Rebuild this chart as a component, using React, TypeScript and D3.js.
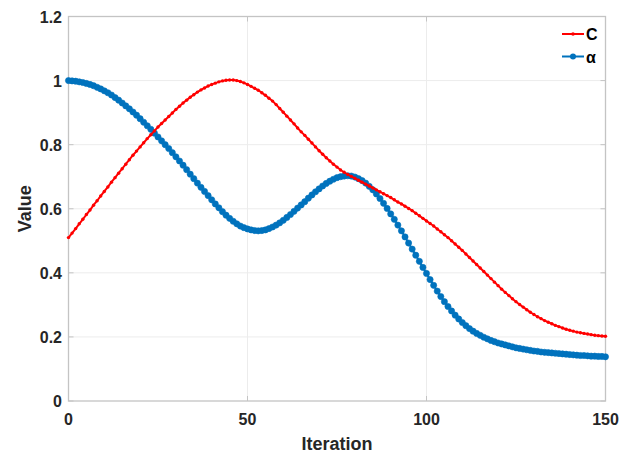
import React from "react";
import * as d3 from "d3";

const iterations: number[] = Array.from({ length: 151 }, (_, i) => i);

const seriesC: number[] = [
  0.510, 0.524, 0.538, 0.553, 0.567, 0.582, 0.596, 0.611, 0.625, 0.640,
  0.654, 0.668, 0.683, 0.697, 0.711, 0.725, 0.739, 0.753, 0.767, 0.780,
  0.793, 0.806, 0.819, 0.831, 0.843, 0.855, 0.866, 0.877, 0.888, 0.899,
  0.910, 0.920, 0.930, 0.939, 0.948, 0.956, 0.964, 0.971, 0.977, 0.983,
  0.988, 0.992, 0.996, 0.999, 1.001, 1.002, 1.002, 1.000, 0.997, 0.993,
  0.988, 0.982, 0.976, 0.970, 0.962, 0.954, 0.945, 0.936, 0.925, 0.913,
  0.901, 0.889, 0.877, 0.865, 0.852, 0.840, 0.829, 0.817, 0.805, 0.793,
  0.781, 0.770, 0.759, 0.749, 0.739, 0.730, 0.721, 0.714, 0.707, 0.701,
  0.695, 0.689, 0.683, 0.677, 0.671, 0.665, 0.659, 0.653, 0.647, 0.641,
  0.635, 0.628, 0.621, 0.615, 0.608, 0.601, 0.594, 0.586, 0.578, 0.570,
  0.562, 0.554, 0.546, 0.537, 0.528, 0.519, 0.510, 0.500, 0.490, 0.480,
  0.470, 0.459, 0.448, 0.437, 0.426, 0.415, 0.404, 0.393, 0.382, 0.371,
  0.360, 0.349, 0.339, 0.329, 0.319, 0.310, 0.301, 0.293, 0.285, 0.277,
  0.270, 0.263, 0.257, 0.251, 0.246, 0.241, 0.236, 0.232, 0.228, 0.224,
  0.221, 0.218, 0.215, 0.213, 0.211, 0.209, 0.207, 0.205, 0.204, 0.203,
  0.202,
];

const seriesAlpha: number[] = [
  1.000, 0.999, 0.998, 0.996, 0.994, 0.991, 0.988, 0.984, 0.979, 0.974,
  0.968, 0.962, 0.955, 0.947, 0.939, 0.930, 0.921, 0.912, 0.902, 0.892,
  0.881, 0.870, 0.859, 0.848, 0.836, 0.824, 0.812, 0.800, 0.788, 0.775,
  0.762, 0.749, 0.736, 0.722, 0.708, 0.694, 0.680, 0.667, 0.654, 0.641,
  0.628, 0.615, 0.603, 0.591, 0.580, 0.570, 0.561, 0.553, 0.546, 0.541,
  0.537, 0.534, 0.532, 0.531, 0.532, 0.534, 0.538, 0.543, 0.549, 0.556,
  0.564, 0.573, 0.582, 0.592, 0.602, 0.612, 0.622, 0.633, 0.643, 0.653,
  0.662, 0.671, 0.679, 0.686, 0.692, 0.697, 0.700, 0.702, 0.703, 0.702,
  0.699, 0.694, 0.688, 0.680, 0.670, 0.659, 0.646, 0.632, 0.617, 0.601,
  0.584, 0.567, 0.549, 0.531, 0.512, 0.493, 0.474, 0.455, 0.436, 0.417,
  0.398, 0.379, 0.361, 0.343, 0.326, 0.310, 0.295, 0.281, 0.268, 0.256,
  0.245, 0.235, 0.226, 0.218, 0.211, 0.205, 0.199, 0.194, 0.189, 0.185,
  0.181, 0.178, 0.175, 0.172, 0.169, 0.166, 0.164, 0.162, 0.160, 0.158,
  0.156, 0.155, 0.153, 0.152, 0.151, 0.150, 0.149, 0.148, 0.147, 0.146,
  0.145, 0.144, 0.143, 0.142, 0.142, 0.141, 0.140, 0.140, 0.139, 0.139,
  0.138,
];

const xTicks: number[] = [0, 50, 100, 150];
const yTicks: number[] = [0, 0.2, 0.4, 0.6, 0.8, 1, 1.2];
const yTickLabels: string[] = ["0", "0.2", "0.4", "0.6", "0.8", "1", "1.2"];
const legendLabels: string[] = ["C", "α"];

const W = 619;
const H = 455;
const left = 68.5;
const right = 605.5;
const top = 16.5;
const bottom = 401;

const FONT = "'Liberation Sans', Arial, sans-serif";
const AXIS = "#c4c4c4";
const GRID = "#ececec";
const TEXT = "#262626";
const RED = "#ff0000";
const BLUE = "#0072bd";

export default function App() {
  const x = d3.scaleLinear().domain([0, 150]).range([left, right]);
  const y = d3.scaleLinear().domain([0, 1.2]).range([bottom, top]);
  const line = d3
    .line<number>()
    .x((_, i) => x(iterations[i]))
    .y((d) => y(d));

  return (
    <svg
      width={W}
      height={H}
      style={{ position: "absolute", left: 0, top: 0, background: "#fff" }}
      fontFamily={FONT}
    >
      <rect x={0} y={0} width={W} height={H} fill="#fff" />
      {xTicks.slice(1, -1).map((t) => (
        <line key={"gx" + t} x1={x(t)} x2={x(t)} y1={top} y2={bottom} stroke={GRID} strokeWidth={1} />
      ))}
      {yTicks.slice(1, -1).map((t) => (
        <line key={"gy" + t} x1={left} x2={right} y1={y(t)} y2={y(t)} stroke={GRID} strokeWidth={1} />
      ))}
      <rect x={left} y={top} width={right - left} height={bottom - top} fill="none" stroke={AXIS} strokeWidth={1.3} />
      {xTicks.map((t) => (
        <g key={"tx" + t}>
          <line x1={x(t)} x2={x(t)} y1={bottom} y2={bottom - 5} stroke={AXIS} />
          <line x1={x(t)} x2={x(t)} y1={top} y2={top + 5} stroke={AXIS} />
          <text x={x(t)} y={425} textAnchor="middle" fontSize={16} fontWeight="bold" fill={TEXT}>
            {t}
          </text>
        </g>
      ))}
      {yTicks.map((t, i) => (
        <g key={"ty" + t}>
          <line x1={left} x2={left + 5} y1={y(t)} y2={y(t)} stroke={AXIS} />
          <line x1={right} x2={right - 5} y1={y(t)} y2={y(t)} stroke={AXIS} />
          <text x={62} y={y(t) + 6} textAnchor="end" fontSize={16} fontWeight="bold" fill={TEXT}>
            {yTickLabels[i]}
          </text>
        </g>
      ))}
      <text x={(left + right) / 2} y={450} textAnchor="middle" fontSize={18} fontWeight="bold" fill={TEXT}>
        Iteration
      </text>
      <text
        transform={`translate(31, ${(top + bottom) / 2}) rotate(-90)`}
        textAnchor="middle"
        fontSize={18}
        fontWeight="bold"
        fill={TEXT}
      >
        Value
      </text>
      <path d={line(seriesAlpha) || ""} fill="none" stroke={BLUE} strokeWidth={2} />
      {seriesAlpha.map((v, i) => (
        <circle key={"a" + i} cx={x(iterations[i])} cy={y(v)} r={3.1} fill={BLUE} stroke={BLUE} strokeWidth={0.6} />
      ))}
      <path d={line(seriesC) || ""} fill="none" stroke={RED} strokeWidth={2} />
      {seriesC.map((v, i) => (
        <circle key={"c" + i} cx={x(iterations[i])} cy={y(v)} r={1.7} fill={RED} />
      ))}
      {legendLabels.map((lab, i) => {
        const ly = 34 + i * 22.5;
        const col = i === 0 ? RED : BLUE;
        return (
          <g key={"lg" + lab}>
            <line x1={562} x2={584} y1={ly} y2={ly} stroke={col} strokeWidth={2} />
            {i === 0 ? (
              <circle cx={573} cy={ly} r={1.8} fill={col} />
            ) : (
              <circle cx={573} cy={ly} r={3} fill={col} />
            )}
            <text x={586} y={ly + 6} fontSize={16} fontWeight="bold" fill="#000">
              {lab}
            </text>
          </g>
        );
      })}
    </svg>
  );
}
